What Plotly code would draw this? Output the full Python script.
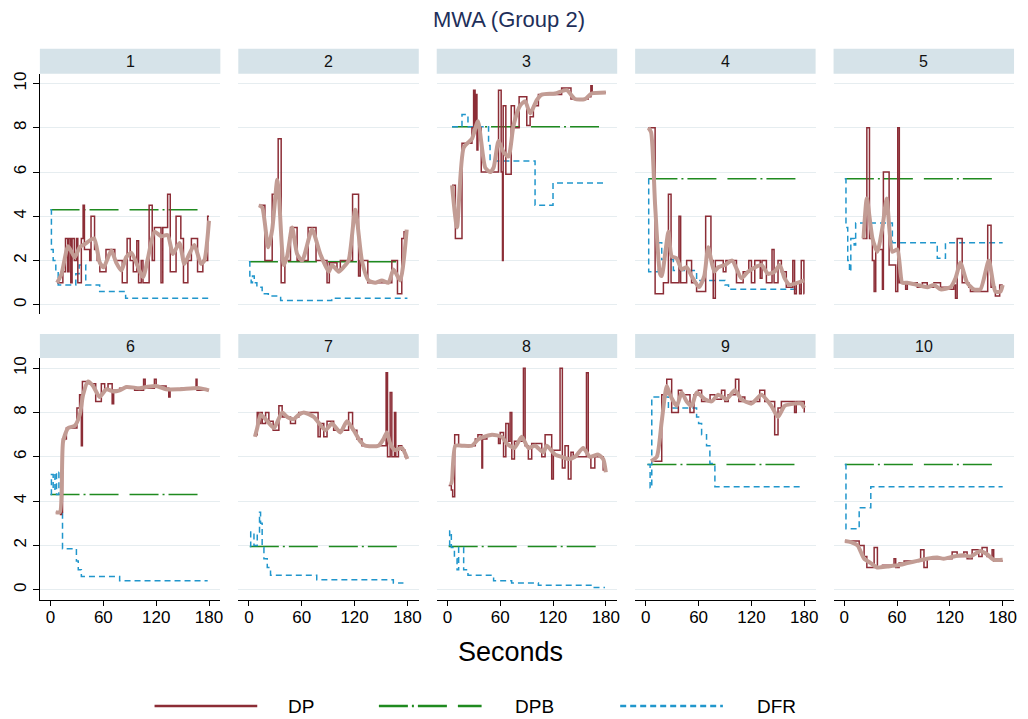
import plotly.graph_objects as go

W, H = 1028, 719
TITLE = "MWA (Group 2)"
X_TITLE = "Seconds"
panel_labels = ["1", "2", "3", "4", "5", "6", "7", "8", "9", "10"]
x_ticks = [0, 60, 120, 180]
y_ticks = [0, 2, 4, 6, 8, 10]
series_names = ["DP", "DPB", "DFR"]

# ---------------- data (seconds, value) ----------------
dp_t_1 = [7.5, 14, 17, 19.5, 21, 23, 24.5, 27, 29.5, 31, 35, 37, 38.5, 44.5, 46, 50, 53, 56, 63, 73, 81.5, 87, 90.5, 94, 98, 100, 103, 105, 112, 115.5, 118, 125.5, 127.5, 133, 136, 142.6, 148, 151, 156, 160, 167, 173, 178.5, 180]
dp_v_1 = [1.0, 1.5, 3.0, 1.5, 3.0, 1.0, 3.0, 2.0, 3.0, 1.0, 3.0, 4.5, 2.5, 2.0, 4.0, 2.5, 2.0, 1.5, 2.5, 2.0, 1.0, 3.0, 2.0, 1.5, 2.9, 1.0, 2.0, 1.0, 4.5, 2.0, 3.5, 1.0, 3.5, 5.0, 1.5, 4.0, 3.0, 1.0, 2.0, 3.0, 1.5, 2.0, 4.0, 4.0]
sm_t_1 = [7.5, 12.5, 20, 27.5, 33, 39, 49.4, 56, 60.4, 69, 74.7, 80.4, 86, 91.7, 97.4, 105, 110.6, 118, 125.7, 133, 139, 146.4, 152, 157.7, 163.4, 171, 174.7, 180]
sm_v_1 = [1.0, 1.4, 2.65, 2.15, 2.6, 2.75, 3.0, 1.9, 1.7, 2.45, 1.9, 1.55, 2.15, 2.35, 1.9, 1.25, 2.1, 3.3, 3.1, 3.15, 2.3, 2.8, 1.85, 2.3, 2.7, 1.85, 2.0, 3.8]
dfr_t_1 = [0, 1, 3, 6, 8.7, 28.7, 32.5, 40, 55.8, 85.3, 180]
dfr_v_1 = [4.3, 2.5, 2.0, 1.5, 0.9, 1.4, 1.8, 0.9, 0.6, 0.3, 0.3]
dpb_t_1 = [0, 173]
dpb_v_1 = 4.3

dp_t_2 = [11.3, 18.1, 26.4, 33.2, 36.6, 40.8, 47.2, 54.7, 67.2, 76.2, 88.7, 91.3, 100, 103.8, 117.7, 124.5, 126.4, 135, 162.3, 168.7, 173.6, 176.2, 179.2]
dp_v_2 = [4.5, 2.0, 5.0, 7.5, 1.0, 2.0, 3.5, 2.0, 3.5, 2.0, 1.0, 1.9, 1.6, 2.0, 5.0, 1.3, 2.0, 1.0, 2.0, 0.5, 3.0, 3.3, 3.3]
sm_t_2 = [11.3, 15.1, 21.9, 26.4, 32.1, 34, 39.6, 43.4, 49, 54.7, 60.4, 71.7, 81, 90.6, 94.3, 101.9, 107.5, 113.2, 120.8, 128.3, 135.8, 143.4, 151, 158.5, 164.2, 171.7, 179.2]
sm_v_2 = [4.5, 4.4, 2.6, 3.4, 5.65, 5.0, 1.8, 2.2, 3.5, 2.3, 2.0, 3.4, 2.3, 1.5, 1.8, 1.5, 1.7, 2.0, 4.3, 2.0, 1.1, 1.0, 1.1, 1.0, 1.6, 1.1, 3.4]
dfr_t_2 = [0, 1, 2.5, 4, 6, 9, 15, 22, 36, 94, 180]
dfr_v_2 = [1.95, 1.3, 1.0, 1.3, 1.0, 0.8, 0.5, 0.4, 0.2, 0.3, 0.3]
dpb_t_2 = [0, 173]
dpb_v_2 = 1.95

dp_t_3 = [5.3, 9.1, 16.6, 27.9, 29.8, 31.5, 32.5, 33.6, 34.7, 38.5, 58.1, 61.1, 62.6, 63.4, 66.4, 72.5, 76.2, 81.5, 90.2, 94, 97.7, 103.4, 129.8, 140.4, 160, 163, 164.5, 180]
dp_v_3 = [5.4, 3.0, 7.3, 8.0, 9.7, 8.0, 9.5, 7.0, 8.0, 6.0, 9.7, 6.0, 2.0, 9.0, 5.9, 9.0, 8.0, 9.4, 8.1, 8.5, 9.0, 9.5, 9.8, 9.3, 9.4, 9.9, 9.6, 9.6]
sm_t_3 = [5.3, 10.9, 18.5, 27.9, 34.7, 43, 48.7, 52.5, 58.1, 63.8, 69.4, 75.1, 82.6, 88.3, 94, 101.5, 107.2, 122.3, 135.5, 144.9, 156.2, 163.8, 180]
sm_v_3 = [5.4, 3.5, 7.1, 7.5, 8.3, 6.2, 6.0, 6.2, 7.4, 6.9, 6.7, 8.1, 9.0, 9.2, 8.65, 9.25, 9.5, 9.55, 9.7, 9.3, 9.3, 9.55, 9.6]
dfr_t_3 = [5.3, 16.6, 23.4, 46.8, 48.5, 99.6, 120, 180]
dfr_v_3 = [8.05, 8.6, 8.05, 7.2, 6.5, 4.5, 5.5, 5.5]
dpb_t_3 = [5.3, 177]
dpb_v_3 = 8.05

dp_t_4 = [3, 10.6, 20, 25.7, 28.7, 37.7, 39.6, 46.4, 52, 57.7, 68, 74, 76.6, 79, 88, 91, 103, 110.6, 117, 120, 123.8, 130, 132, 137, 143.4, 145.7, 150.2, 154, 159.6, 167, 169, 171, 174.7, 176.6, 179.6, 180]
dp_v_4 = [8.0, 0.5, 1.0, 5.0, 1.0, 4.0, 1.0, 2.0, 1.0, 0.6, 4.0, 2.0, 0.3, 2.0, 1.5, 2.0, 1.0, 1.5, 2.0, 1.0, 2.0, 1.2, 2.0, 1.0, 2.5, 1.0, 2.0, 1.5, 0.8, 2.0, 0.5, 1.0, 0.5, 2.0, 0.5, 0.5]
sm_t_4 = [3, 6, 10.6, 16.2, 18.1, 22.6, 25.7, 29.4, 35.1, 40.8, 46.4, 52, 60.4, 66.4, 70.9, 77.7, 82.3, 89.8, 98.1, 108.7, 116.2, 131.3, 138.9, 146.4, 152.1, 157.7, 163.4, 172.8, 180]
sm_v_4 = [8.0, 7.8, 4.5, 1.4, 1.3, 2.5, 3.3, 2.2, 2.1, 1.6, 1.7, 1.3, 0.8, 1.3, 2.6, 1.5, 1.7, 1.8, 2.0, 1.2, 1.5, 1.8, 1.4, 1.5, 1.8, 1.2, 0.9, 1.0, 1.1]
dfr_t_4 = [3, 3.3, 14.3, 18.1, 31.3, 57.7, 90, 94, 177]
dfr_v_4 = [5.7, 1.5, 2.8, 2.05, 1.55, 1.1, 0.9, 0.7, 0.7]
dpb_t_4 = [3, 175]
dpb_v_4 = 5.7

dp_t_5 = [20.8, 25.7, 28.7, 32, 34, 35.8, 43.4, 44.5, 51, 58.5, 60.8, 62.6, 69.8, 71.7, 83, 88.7, 94.3, 101.9, 109.4, 117, 124.5, 126.4, 128.3, 134, 141.5, 143.4, 163, 166.8, 171.7, 176.6, 180]
dp_v_5 = [3.0, 8.0, 3.0, 2.0, 0.6, 2.5, 0.7, 6.0, 1.8, 0.6, 8.0, 1.0, 0.7, 1.0, 0.8, 1.0, 0.8, 1.0, 0.8, 0.7, 0.9, 0.3, 3.0, 1.0, 0.8, 0.6, 3.6, 0.8, 0.4, 0.9, 0.9]
sm_t_5 = [21.9, 25.7, 32.1, 37.7, 43.4, 48.3, 54.7, 60.4, 66, 71.7, 83, 94.3, 101.9, 109.4, 120.8, 126.4, 132, 139.6, 147.2, 154.7, 164.2, 171.7, 177.4, 180]
sm_v_5 = [3.0, 4.8, 3.0, 2.4, 3.5, 4.8, 2.4, 2.5, 1.0, 1.0, 0.9, 0.8, 0.9, 0.7, 0.8, 1.2, 1.9, 1.0, 0.7, 0.7, 2.0, 0.6, 0.6, 0.9]
dfr_t_5 = [0.75, 2, 4, 6, 7.5, 11.3, 13, 54.7, 105.7, 115, 180]
dfr_v_5 = [5.7, 3.5, 2.0, 1.5, 3.0, 2.7, 3.7, 2.8, 2.1, 2.8, 2.8]
dpb_t_5 = [0.75, 173.6]
dpb_v_5 = 5.7

dp_t_6 = [6, 11.3, 12.5, 13.6, 18, 30, 33, 35, 36.2, 43.8, 51.3, 57.7, 61.5, 65.3, 70, 71.7, 78.5, 95.5, 105.7, 107.5, 118, 120, 131.3, 134.3, 135.8, 148.3, 165.3, 166.4, 180]
dp_v_6 = [3.5, 3.4, 3.5, 6.8, 7.3, 8.2, 8.8, 6.5, 9.4, 9.3, 8.5, 9.3, 9.0, 9.3, 8.4, 9.0, 9.1, 9.0, 9.5, 9.1, 9.5, 9.2, 9.1, 8.7, 9.0, 9.1, 9.5, 9.0, 9.0]
sm_t_6 = [6, 10.6, 14.3, 20, 27.5, 33.2, 37, 42.6, 48.3, 55.8, 63.4, 70.9, 78.5, 86, 101, 108.7, 120, 131.3, 146.4, 169, 180]
sm_v_6 = [3.5, 3.5, 6.7, 7.3, 7.4, 7.9, 8.8, 9.4, 9.2, 8.7, 9.05, 8.95, 9.0, 9.15, 9.1, 9.15, 9.2, 9.05, 9.05, 9.1, 9.0]
dfr_t_6 = [0, 1, 3, 5, 6.8, 9.5, 12, 13.6, 29.4, 31.5, 35, 78.5, 178.5]
dfr_v_6 = [4.3, 5.2, 4.5, 5.3, 4.3, 5.3, 3.5, 1.85, 1.3, 0.9, 0.6, 0.4, 0.4]
dpb_t_6 = [0, 173]
dpb_v_6 = 4.3

dp_t_7 = [6.8, 9.4, 11.3, 13.2, 15.1, 18.9, 22.6, 27.5, 34, 37.7, 47.2, 52.8, 56.6, 78.5, 81, 85, 88.7, 96.2, 113.2, 117.7, 122.6, 128.3, 155.8, 157.4, 160.4, 162.3, 165.3, 166.8, 169.8, 173.6, 177.4, 180]
dp_v_7 = [7.0, 8.0, 7.5, 8.0, 7.5, 8.0, 7.6, 7.2, 8.3, 7.8, 7.5, 7.8, 8.0, 6.9, 7.5, 6.9, 7.6, 7.2, 8.0, 7.2, 6.8, 6.5, 9.8, 6.0, 8.9, 6.0, 8.0, 6.0, 6.5, 6.3, 6.0, 6.0]
sm_t_7 = [6.8, 9.4, 13.2, 18.9, 28.3, 37.7, 43.4, 51, 56.6, 62.3, 73.6, 86.8, 94.3, 103.8, 111.3, 118.9, 126.4, 132, 147.2, 152.8, 156.6, 160.4, 166, 173.6, 180]
sm_v_7 = [6.9, 7.3, 7.9, 7.7, 7.3, 8.0, 7.8, 7.7, 7.9, 8.0, 7.8, 7.2, 7.5, 7.1, 7.6, 7.2, 6.7, 6.5, 6.5, 6.8, 7.1, 6.6, 6.3, 6.4, 5.9]
dfr_t_7 = [1, 2, 5.7, 9.4, 12, 13.2, 15, 17, 20.8, 24.5, 77, 164, 175.5]
dfr_v_7 = [1.95, 2.6, 2.0, 2.6, 3.5, 3.0, 1.9, 1.4, 1.0, 0.65, 0.45, 0.3, 0.3]
dpb_t_7 = [1, 173.6]
dpb_v_7 = 1.95

dp_t_8 = [1.5, 4.5, 6, 8.3, 12.8, 31.7, 34.7, 39.2, 40, 44.9, 58.1, 60, 63.8, 66.4, 69.4, 71.3, 73.2, 76.2, 86.4, 88.3, 92, 95.8, 107.2, 111, 118.5, 120.4, 128, 130.6, 133.6, 137.4, 140.4, 143, 158, 160, 163, 167.5, 177, 180]
dp_v_8 = [4.7, 4.5, 4.2, 7.0, 6.5, 6.8, 7.0, 5.5, 6.8, 7.0, 6.6, 7.1, 6.0, 7.5, 6.7, 8.0, 5.9, 6.7, 10.0, 6.5, 5.9, 6.6, 6.0, 7.0, 5.0, 6.3, 10.0, 5.5, 6.5, 5.0, 6.2, 6.0, 9.8, 6.0, 5.5, 6.0, 5.4, 5.4]
sm_t_8 = [2.3, 4.5, 9, 16.6, 27.9, 35.5, 50.6, 61.9, 67.5, 76.2, 84.5, 92, 99.6, 109, 112.8, 122.3, 129.8, 137.4, 144.9, 154.3, 161.9, 171.3, 177, 180]
sm_v_8 = [4.8, 4.8, 6.5, 6.5, 6.5, 6.8, 7.0, 6.9, 6.6, 6.4, 6.9, 6.4, 6.5, 6.2, 6.5, 6.1, 6.0, 5.9, 6.0, 6.4, 6.0, 6.1, 5.9, 5.3]
dfr_t_8 = [1.5, 2.6, 4.5, 8, 11, 12.8, 18.5, 23.4, 52.5, 73, 103.4, 164, 179]
dfr_v_8 = [2.0, 2.65, 1.9, 1.4, 0.9, 1.9, 0.9, 0.65, 0.4, 0.3, 0.2, 0.1, 0.1]
dpb_t_8 = [1.5, 173]
dpb_v_8 = 1.95

dp_t_9 = [6, 18.1, 23.8, 29.4, 37, 40.8, 50.2, 54.7, 59.6, 63.4, 73, 78.5, 86, 89.8, 93.6, 101.9, 105.7, 109.4, 112.5, 129.4, 135.1, 146.4, 150.2, 154, 169, 170.9, 180]
dp_v_9 = [5.8, 8.8, 9.5, 8.0, 9.0, 8.8, 8.0, 8.8, 9.0, 8.5, 8.8, 8.6, 9.0, 8.5, 8.8, 9.5, 8.5, 8.7, 8.5, 9.0, 8.5, 7.0, 8.2, 8.5, 8.0, 8.5, 8.0]
sm_t_9 = [6, 12.5, 18.1, 23.8, 27.5, 35.1, 40.8, 46.4, 52.1, 57.7, 67.2, 74.7, 82.3, 91.7, 101.1, 108.7, 120, 131.3, 142.6, 150.2, 157.7, 169, 176.6, 180]
sm_v_9 = [5.8, 6.0, 7.6, 9.2, 8.8, 8.3, 8.9, 8.5, 8.3, 8.9, 8.6, 8.5, 8.8, 8.6, 9.0, 8.6, 8.4, 8.8, 8.3, 7.8, 8.3, 8.4, 8.4, 8.2]
dfr_t_9 = [1.9, 4.9, 6.8, 25.7, 57.7, 60, 63.4, 69, 72.8, 78.5, 175]
dfr_v_9 = [5.65, 4.6, 8.7, 8.2, 7.8, 7.5, 7.0, 6.5, 5.7, 4.65, 4.65]
dpb_t_9 = [1.9, 174.3]
dpb_v_9 = 5.65

dp_t_10 = [0.75, 17, 22.6, 25.7, 34, 37.7, 43.4, 56.6, 58.5, 62.3, 68, 86.8, 90.6, 94.3, 122.6, 128.3, 135.8, 139.6, 145.3, 152.8, 156.6, 162.3, 168, 169.8, 180]
dp_v_10 = [2.2, 2.0, 1.5, 1.0, 1.9, 1.0, 1.1, 1.4, 1.0, 1.2, 1.3, 1.8, 1.0, 1.4, 1.7, 1.5, 1.7, 1.4, 1.8, 1.5, 1.9, 1.5, 1.8, 1.3, 1.3]
sm_t_10 = [0.75, 7.5, 15.1, 22.6, 30.2, 37.7, 49, 60.4, 71.7, 83, 94.3, 105.7, 113.2, 124.5, 135.8, 143.4, 154.7, 162.3, 169.8, 180]
sm_v_10 = [2.2, 2.15, 2.0, 1.4, 1.2, 1.0, 1.05, 1.1, 1.2, 1.3, 1.4, 1.45, 1.4, 1.5, 1.55, 1.5, 1.75, 1.6, 1.35, 1.35]
dfr_t_10 = [0.75, 2, 17, 30.2, 180]
dfr_v_10 = [5.65, 2.75, 3.7, 4.65, 4.65]
dpb_t_10 = [0.75, 173]
dpb_v_10 = 5.65

dp_t = [dp_t_1, dp_t_2, dp_t_3, dp_t_4, dp_t_5, dp_t_6, dp_t_7, dp_t_8, dp_t_9, dp_t_10]
dp_v = [dp_v_1, dp_v_2, dp_v_3, dp_v_4, dp_v_5, dp_v_6, dp_v_7, dp_v_8, dp_v_9, dp_v_10]
sm_t = [sm_t_1, sm_t_2, sm_t_3, sm_t_4, sm_t_5, sm_t_6, sm_t_7, sm_t_8, sm_t_9, sm_t_10]
sm_v = [sm_v_1, sm_v_2, sm_v_3, sm_v_4, sm_v_5, sm_v_6, sm_v_7, sm_v_8, sm_v_9, sm_v_10]
dfr_t = [dfr_t_1, dfr_t_2, dfr_t_3, dfr_t_4, dfr_t_5, dfr_t_6, dfr_t_7, dfr_t_8, dfr_t_9, dfr_t_10]
dfr_v = [dfr_v_1, dfr_v_2, dfr_v_3, dfr_v_4, dfr_v_5, dfr_v_6, dfr_v_7, dfr_v_8, dfr_v_9, dfr_v_10]
dpb_t = [dpb_t_1, dpb_t_2, dpb_t_3, dpb_t_4, dpb_t_5, dpb_t_6, dpb_t_7, dpb_t_8, dpb_t_9, dpb_t_10]
dpb_v = [dpb_v_1, dpb_v_2, dpb_v_3, dpb_v_4, dpb_v_5, dpb_v_6, dpb_v_7, dpb_v_8, dpb_v_9, dpb_v_10]

# ---------------- style ----------------
FONT = "Liberation Sans, Arial, sans-serif"
C_DP = "#8c2d36"
C_SM = "#c29c94"
C_DPB = "#1f8a1f"
C_DFR = "#2096cc"
C_STRIP = "#d6e3e9"
C_GRID = "#e6edf0"
DASH_DPB = "29px,4px,2px,4px,29px,11px"
DASH_DFR = "6px,4px"

# layout geometry (pixels)
COL_X0 = 40
COL_W = 181
COL_PITCH = 199
ROWS = [dict(strip=(47, 72), plot=(72, 313)), dict(strip=(333, 357), plot=(357, 600))]
X_RANGE = [-12.1, 192.9]
Y_RANGES = [[-0.42, 10.44], [-0.48, 10.46]]


def px(x):
    return x / W


def py(y):
    return 1 - y / H


fig = go.Figure()
layout = dict(
    width=W, height=H, margin=dict(l=0, r=0, t=0, b=0),
    paper_bgcolor="white", plot_bgcolor="white", showlegend=False,
    font=dict(family=FONT, color="black"),
)
shapes = []
annotations = []

for i in range(10):
    row, col = divmod(i, 5)
    n = "" if i == 0 else str(i + 1)
    xref, yref = "x" + n, "y" + n
    x0 = COL_X0 + col * COL_PITCH
    x1 = x0 + COL_W
    r = ROWS[row]
    bottom_row = row == 1
    left_col = col == 0

    layout["xaxis" + n] = dict(
        domain=[px(x0), px(x1)], anchor=yref, range=X_RANGE,
        showgrid=False, zeroline=False,
        tickvals=x_ticks, ticktext=[str(v) for v in x_ticks],
        showline=bottom_row, linecolor="black", linewidth=1,
        ticks="outside" if bottom_row else "", ticklen=5, tickcolor="black",
        ticklabelstandoff=-4,
        showticklabels=bottom_row, tickfont=dict(size=17, color="black", family=FONT),
    )
    layout["yaxis" + n] = dict(
        domain=[py(r["plot"][1]), py(r["plot"][0])], anchor=xref, range=Y_RANGES[row],
        showgrid=True, gridcolor=C_GRID, gridwidth=1, zeroline=False,
        tickvals=y_ticks, ticktext=[str(v) for v in y_ticks],
        showline=left_col, linecolor="black", linewidth=1,
        ticks="outside" if left_col else "", ticklen=6, tickcolor="black",
        showticklabels=left_col, tickangle=-90,
        tickfont=dict(size=17, color="black", family=FONT),
    )

    # strip header
    shapes.append(dict(type="rect", xref="paper", yref="paper",
                       x0=px(x0), x1=px(x1), y0=py(r["strip"][1]), y1=py(r["strip"][0]),
                       fillcolor=C_STRIP, line=dict(width=0), layer="below"))
    annotations.append(dict(text=panel_labels[i], xref="paper", yref="paper",
                            x=px((x0 + x1) / 2), y=py(sum(r["strip"]) / 2),
                            xanchor="center", yanchor="middle", showarrow=False,
                            font=dict(size=16, color="#111111", family=FONT)))

    # DPB (constant benchmark)
    fig.add_trace(go.Scatter(x=dpb_t[i], y=[dpb_v[i]] * len(dpb_t[i]), mode="lines",
                             line=dict(color=C_DPB, width=1.6, dash=DASH_DPB),
                             xaxis=xref, yaxis=yref, hoverinfo="skip"))
    # DFR
    fig.add_trace(go.Scatter(x=dfr_t[i], y=dfr_v[i], mode="lines",
                             line=dict(color=C_DFR, width=1.5, dash=DASH_DFR, shape="hv"),
                             xaxis=xref, yaxis=yref, hoverinfo="skip"))
    # DP
    fig.add_trace(go.Scatter(x=dp_t[i], y=dp_v[i], mode="lines",
                             line=dict(color=C_DP, width=1.5, shape="hv"),
                             xaxis=xref, yaxis=yref, hoverinfo="skip"))
    # smoothed DP
    fig.add_trace(go.Scatter(x=sm_t[i], y=sm_v[i], mode="lines",
                             line=dict(color=C_SM, width=4, shape="spline", smoothing=0.6),
                             xaxis=xref, yaxis=yref, hoverinfo="skip"))

# title & axis title
annotations.append(dict(text=TITLE, xref="paper", yref="paper", x=px(510), y=py(18),
                        xanchor="center", yanchor="middle", showarrow=False,
                        font=dict(size=22, color="#1e2f5a", family=FONT)))
annotations.append(dict(text=X_TITLE, xref="paper", yref="paper", x=px(512), y=py(652),
                        xanchor="center", yanchor="middle", showarrow=False,
                        font=dict(size=27, color="black", family=FONT)))

# legend (drawn manually with long samples)
legend_items = [
    (series_names[0], C_DP, "solid", 155, 287),
    (series_names[1], C_DPB, DASH_DPB, 380, 515),
    (series_names[2], C_DFR, DASH_DFR, 622, 757),
]
for name, color, dash, lx, tx in legend_items:
    shapes.append(dict(type="line", xref="paper", yref="paper",
                       x0=px(lx), x1=px(lx + 103), y0=py(706), y1=py(706),
                       line=dict(color=color, width=2.5, dash=dash)))
    annotations.append(dict(text=name, xref="paper", yref="paper", x=px(tx), y=py(706),
                            xanchor="left", yanchor="middle", showarrow=False,
                            font=dict(size=19, color="black", family=FONT)))

layout["shapes"] = shapes
layout["annotations"] = annotations
fig.update_layout(**layout)
fig.write_html("out.html")
